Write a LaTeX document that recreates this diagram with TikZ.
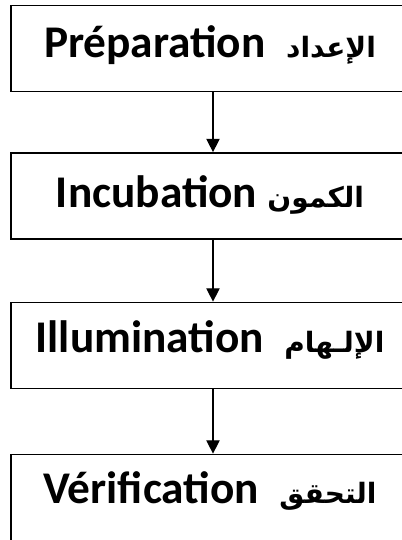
\documentclass[tikz,border=0pt]{standalone}
\usepackage{fontspec}
\setmainfont{Carlito}
\newfontfamily\arabicfont[Script=Arabic]{DejaVu Sans}
\TeXXeTstate=1
\usetikzlibrary{arrows.meta}
\newcommand{\ar}[1]{{\arabicfont\fontsize{21}{25}\selectfont\beginR #1\endR}}
\begin{document}
\begin{tikzpicture}[x=0.75pt,y=-0.75pt,
  stage/.style={rectangle, draw=black, line width=1.3pt, minimum width=303pt, minimum height=64.5pt, inner sep=0pt},
  lbl/.style={anchor=base, font=\bfseries\fontsize{34}{40}\selectfont, inner sep=0pt},
  flow/.style={-{Triangle[width=10pt,length=10pt]}, line width=1pt},
  ]
 \useasboundingbox (0,0) rectangle (402,540);
 \clip (0,0) rectangle (402,540);
 % the four stages
 \node [stage] (prep) at (213,48.5) {};
 \node [stage] (incub) at (213,196) {};
 \node [stage] (illum) at (213,345.5) {};
 \node [stage] (verif) at (213,497.5) {};
 \node [lbl] (prepTxt) at (210,57) {Préparation\ \ \ar{الإعداد}};
 \node [lbl] (incubTxt) at (210,207) {Incubation \ar{الكمون}};
 \node [lbl] (illumTxt) at (210,352) {Illumination\ \ \ar{الإلـهام}};
 \node [lbl] (verifTxt) at (210,503) {Vérification\ \ \ar{التحقق}};
 % arrows
 \draw [flow] (prep.south) -- (incub.north);
 \draw [flow] (incub.south) -- (illum.north);
 \draw [flow] (illum.south) -- (verif.north);
\end{tikzpicture}
\end{document}
